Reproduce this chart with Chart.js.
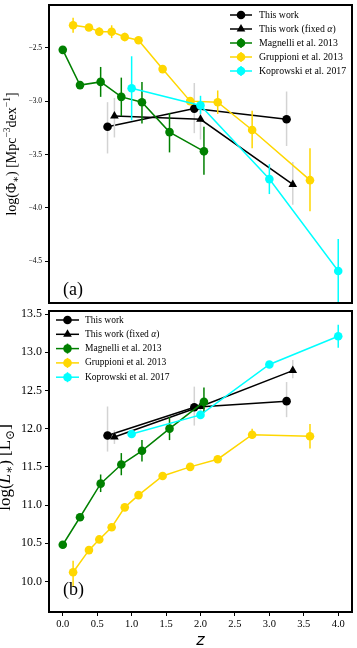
<!DOCTYPE html>
<html>
<head>
<meta charset="utf-8">
<script src="https://cdn.jsdelivr.net/npm/chart.js@4.4.1/dist/chart.umd.min.js"></script>
<style>
    html, body { margin: 0; padding: 0; background: #fff; }
    #wrap { position: relative; width: 357px; height: 648px; overflow: hidden; }
    canvas { position: absolute; left: 0; }
    #c1 { top: 0; }
    #c2 { top: 306px; }
</style>
</head>
<body>
<div id="wrap">
    <canvas id="c1" width="357" height="308"></canvas>
    <canvas id="c2" width="357" height="342"></canvas>
</div>
<script>
// Tick labels
const Z_TICKS = [0, 0.5, 1, 1.5, 2, 2.5, 3, 3.5, 4];
const PHI_TICKS = [-4.5, -4, -3.5, -3, -2.5];
const LUM_TICKS = [10, 10.5, 11, 11.5, 12, 12.5, 13, 13.5];

// This work
const thisWorkZ = [0.65, 1.91, 3.25];
const thisWorkPhi = [-3.24, -3.07, -3.17];
const thisWorkPhiLo = [-3.49, -3.30, -3.42];
const thisWorkPhiHi = [-3.01, -2.83, -2.91];
const thisWorkL = [11.91, 12.28, 12.36];
const thisWorkLLo = [11.70, 12.04, 12.15];
const thisWorkLHi = [12.29, 12.55, 12.61];

// This work (fixed alpha)
const fixedZ = [0.75, 2.0, 3.34];
const fixedPhi = [-3.14, -3.17, -3.78];
const fixedPhiLo = [-3.34, -3.36, -3.97];
const fixedPhiHi = [-2.97, -3.00, -3.57];
const fixedL = [11.89, 12.29, 12.76];
const fixedLLo = [11.80, 12.20, 12.66];
const fixedLHi = [11.98, 12.38, 12.90];

// Magnelli et al. 2013
const magnelliZ = [0.0, 0.25, 0.55, 0.85, 1.15, 1.55, 2.05];
const magnelliPhi = [-2.52, -2.85, -2.82, -2.96, -3.01, -3.29, -3.47];
const magnelliPhiLo = [null, null, -2.96, -3.14, -3.21, -3.48, -3.69];
const magnelliPhiHi = [null, null, -2.68, -2.78, -2.82, -3.11, -3.24];
const magnelliL = [10.48, 10.84, 11.28, 11.53, 11.71, 12.00, 12.35];
const magnelliLLo = [null, 10.80, 11.17, 11.39, 11.57, 11.85, 12.21];
const magnelliLHi = [null, 10.88, 11.40, 11.68, 11.85, 12.15, 12.54];

// Gruppioni et al. 2013
const gruppioniZ = [0.15, 0.38, 0.53, 0.71, 0.90, 1.10, 1.45, 1.85, 2.25, 2.75, 3.59];
const gruppioniPhi = [-2.29, -2.31, -2.35, -2.35, -2.40, -2.43, -2.70, -3.00, -3.01, -3.27, -3.74];
const gruppioniPhiLo = [-2.36, -2.34, -2.39, -2.41, -2.44, -2.46, -2.72, -3.02, -3.12, -3.44, -4.03];
const gruppioniPhiHi = [-2.22, -2.28, -2.31, -2.29, -2.36, -2.40, -2.68, -2.98, -2.90, -3.09, -3.44];
const gruppioniL = [10.12, 10.41, 10.55, 10.71, 10.97, 11.13, 11.38, 11.50, 11.60, 11.92, 11.90];
const gruppioniLLo = [9.93, 10.38, 10.52, 10.68, 10.94, 11.10, 11.35, 11.47, 11.57, 11.87, 11.74];
const gruppioniLHi = [10.27, 10.44, 10.58, 10.74, 11.00, 11.16, 11.41, 11.53, 11.63, 12.00, 12.06];

// Koprowski et al. 2017
const koprowskiZ = [1.0, 2.0, 3.0, 4.0];
const koprowskiPhi = [-2.88, -3.04, -3.73, -4.59];
const koprowskiPhiLo = [-3.18, -3.12, -3.87, -4.95];
const koprowskiPhiHi = [-2.58, -2.95, -3.59, -4.29];
const koprowskiL = [11.93, 12.18, 12.84, 13.21];
const koprowskiLLo = [11.89, 12.14, 12.80, 13.06];
const koprowskiLHi = [11.97, 12.22, 12.88, 13.36];

const SERIF = '"Liberation Serif", "DejaVu Serif", serif';

const STYLES = [
    { label: ['This work'], color: '#000000', err: '#d3d3d3', marker: 'circle', r: 4.3 },
    { label: ['This work (fixed ', '*α', ')'], color: '#000000', err: '#d3d3d3', marker: 'triangle', r: 5 },
    { label: ['Magnelli et al. 2013'], color: '#008000', err: '#008000', marker: 'circle', r: 4.3 },
    { label: ['Gruppioni et al. 2013'], color: '#ffd700', err: '#ffd700', marker: 'circle', r: 4.3 },
    { label: ['Koprowski et al. 2017'], color: '#00ffff', err: '#00ffff', marker: 'circle', r: 4.3 }
];

function buildDatasets(groups) {
    return groups.map((g, i) => {
        const st = STYLES[i];
        return {
            label: st.label.join(''),
            data: g.z.map((z, k) => ({ x: z, y: g.y[k] })),
            errLo: g.lo,
            errHi: g.hi,
            errColor: st.err,
            showLine: true,
            borderColor: st.color,
            backgroundColor: st.color,
            borderWidth: 1.5,
            pointStyle: st.marker,
            pointRadius: st.r,
            pointBorderWidth: 0,
            order: STYLES.length - i
        };
    });
}

// Error bars, drawn just before each dataset so layering follows the series order
const errorBars = {
    id: 'errorBars',
    beforeDatasetDraw(chart, args) {
        const ds = chart.data.datasets[args.index];
        if (!ds.errLo) return;
        const ctx = chart.ctx, xs = chart.scales.x, ys = chart.scales.y, a = chart.chartArea;
        ctx.save();
        ctx.beginPath();
        ctx.rect(a.left, a.top, a.right - a.left, a.bottom - a.top);
        ctx.clip();
        ctx.strokeStyle = ds.errColor;
        ctx.lineWidth = 1.5;
        ds.data.forEach((p, k) => {
            if (ds.errLo[k] == null) return;
            const x = xs.getPixelForValue(p.x);
            ctx.beginPath();
            ctx.moveTo(x, ys.getPixelForValue(ds.errLo[k]));
            ctx.lineTo(x, ys.getPixelForValue(ds.errHi[k]));
            ctx.stroke();
        });
        ctx.restore();
    }
};

// Rich text: segments [text, size, dy, italic]
function drawRich(ctx, segs) {
    let w = 0;
    segs.forEach(s => {
        ctx.font = (s[3] ? 'italic ' : '') + s[1] + 'px ' + SERIF;
        s.w = ctx.measureText(s[0]).width;
        w += s.w;
    });
    let x = -w / 2;
    segs.forEach(s => {
        ctx.font = (s[3] ? 'italic ' : '') + s[1] + 'px ' + SERIF;
        ctx.fillText(s[0], x, s[2]);
        x += s.w;
    });
}

function decoPlugin(cfg) {
    return {
        id: 'deco',
        afterDraw(chart) {
            const ctx = chart.ctx, a = chart.chartArea;
            ctx.save();
            // frame
            ctx.strokeStyle = '#000';
            ctx.lineWidth = 2;
            ctx.strokeRect(a.left, a.top, a.right - a.left, a.bottom - a.top);

            ctx.fillStyle = '#000';
            ctx.textAlign = 'left';

            // y label (alphabetic baseline, rotated)
            ctx.save();
            ctx.textBaseline = 'alphabetic';
            ctx.translate(cfg.ylabX, (a.top + a.bottom) / 2 + cfg.ylabDy);
            ctx.rotate(-Math.PI / 2);
            drawRich(ctx, cfg.ylab);
            ctx.restore();

            ctx.textBaseline = 'middle';

            // panel letter
            ctx.font = '18px ' + SERIF;
            ctx.fillText(cfg.letter, 63, cfg.letterY);

            // legend
            const lg = cfg.legend;
            STYLES.forEach((st, i) => {
                const y = lg.y0 + i * lg.dy;
                ctx.strokeStyle = st.color;
                ctx.fillStyle = st.color;
                ctx.lineWidth = 1.5;
                ctx.beginPath();
                ctx.moveTo(lg.x1, y);
                ctx.lineTo(lg.x2, y);
                ctx.stroke();
                if (st.err !== '#d3d3d3') {
                    ctx.beginPath();
                    ctx.moveTo((lg.x1 + lg.x2) / 2, y - 5);
                    ctx.lineTo((lg.x1 + lg.x2) / 2, y + 5);
                    ctx.stroke();
                }
                Chart.helpers.drawPoint(ctx, { pointStyle: st.marker, radius: st.r, borderWidth: 0, rotation: 0 },
                    (lg.x1 + lg.x2) / 2, y);
                ctx.fillStyle = '#000';
                let tx = lg.tx;
                st.label.forEach(part => {
                    const it = part[0] === '*';
                    const t = it ? part.slice(1) : part;
                    ctx.font = (it ? 'italic ' : '') + lg.size + 'px ' + SERIF;
                    ctx.fillText(t, tx, y);
                    tx += ctx.measureText(t).width;
                });
            });

            // x label
            if (cfg.xlab) {
                ctx.textAlign = 'center';
                ctx.font = 'italic 16px "DejaVu Sans", sans-serif';
                ctx.fillText('z', (a.left + a.right) / 2, a.bottom + 29);
            }
            ctx.restore();
        }
    };
}

function fmt(v) {
    return v.toFixed(1).replace('-', '\u2212');
}

function noPad(s) {
    s.paddingTop = 0;
    s.paddingBottom = 0;
    s.paddingLeft = 0;
    s.paddingRight = 0;
}

function makeChart(id, datasets, yMin, yMax, yTicks, opts) {
    return new Chart(document.getElementById(id), {
        type: 'scatter',
        data: { datasets },
        options: {
            responsive: false,
            animation: false,
            devicePixelRatio: 1,
            layout: { padding: opts.padding },
            plugins: { legend: { display: false }, tooltip: { enabled: false } },
            scales: {
                x: {
                    type: 'linear',
                    min: -0.2, max: 4.2,
                    display: opts.showX,
                    afterFit: s => { s.height = opts.showX ? 36 : 0; noPad(s); },
                    afterBuildTicks: s => { s.ticks = Z_TICKS.map(v => ({ value: v })); },
                    grid: { drawOnChartArea: false, drawTicks: true, tickLength: 4, color: '#000', tickWidth: 1 },
                    border: { display: false },
                    ticks: {
                        color: '#000', padding: 2, maxRotation: 0,
                        font: { family: SERIF, size: 10.5 },
                        callback: v => fmt(v)
                    }
                },
                y: {
                    type: 'linear',
                    min: yMin, max: yMax,
                    afterFit: s => { s.width = 49; noPad(s); },
                    afterBuildTicks: s => { s.ticks = yTicks.map(v => ({ value: v })); },
                    grid: { drawOnChartArea: false, drawTicks: true, tickLength: 4, color: '#000', tickWidth: 1 },
                    border: { display: false },
                    ticks: {
                        color: '#000', padding: 3,
                        font: { family: SERIF, size: opts.yTickSize },
                        callback: v => fmt(v)
                    }
                }
            }
        },
        plugins: [errorBars, decoPlugin(opts.deco)]
    });
}

const phiGroups = [
    { z: thisWorkZ, y: thisWorkPhi, lo: thisWorkPhiLo, hi: thisWorkPhiHi },
    { z: fixedZ, y: fixedPhi, lo: fixedPhiLo, hi: fixedPhiHi },
    { z: magnelliZ, y: magnelliPhi, lo: magnelliPhiLo, hi: magnelliPhiHi },
    { z: gruppioniZ, y: gruppioniPhi, lo: gruppioniPhiLo, hi: gruppioniPhiHi },
    { z: koprowskiZ, y: koprowskiPhi, lo: koprowskiPhiLo, hi: koprowskiPhiHi }
];

const lumGroups = [
    { z: thisWorkZ, y: thisWorkL, lo: thisWorkLLo, hi: thisWorkLHi },
    { z: fixedZ, y: fixedL, lo: fixedLLo, hi: fixedLHi },
    { z: magnelliZ, y: magnelliL, lo: magnelliLLo, hi: magnelliLHi },
    { z: gruppioniZ, y: gruppioniL, lo: gruppioniLLo, hi: gruppioniLHi },
    { z: koprowskiZ, y: koprowskiL, lo: koprowskiLLo, hi: koprowskiLHi }
];

makeChart('c1', buildDatasets(phiGroups), -4.89, -2.10, PHI_TICKS, {
    padding: { left: 0, right: 2, top: 2, bottom: 2 },
    showX: false,
    yTickSize: 7.5,
    deco: {
        ylabX: 16, ylabDy: 0,
        ylab: [['log(\u03a6', 14, 0], ['\u2217', 10, 3], [') [Mpc', 14, 0], ['\u22123', 9.5, -6],
               ['dex', 14, 0], ['\u22121', 9.5, -6], [']', 14, 0]],
        letter: '(a)', letterY: 290,
        legend: { x1: 230, x2: 252, tx: 259, y0: 15, dy: 14, size: 9.8 },
        xlab: false
    }
});

makeChart('c2', buildDatasets(lumGroups), 9.60, 13.54, LUM_TICKS, {
    padding: { left: 0, right: 2, top: 1, bottom: 0 },
    showX: true,
    yTickSize: 12,
    deco: {
        ylabX: 10, ylabDy: 6,
        ylab: [['log(', 17, 0], ['L', 17, 0, true], ['\u2217', 12, 3], [') [L', 17, 0],
               ['\u2299', 12, 4], [']', 17, 0]],
        letter: '(b)', letterY: 284,
        legend: { x1: 56, x2: 79, tx: 85, y0: 14, dy: 14.3, size: 9.5 },
        xlab: true
    }
});
</script>
</body>
</html>
